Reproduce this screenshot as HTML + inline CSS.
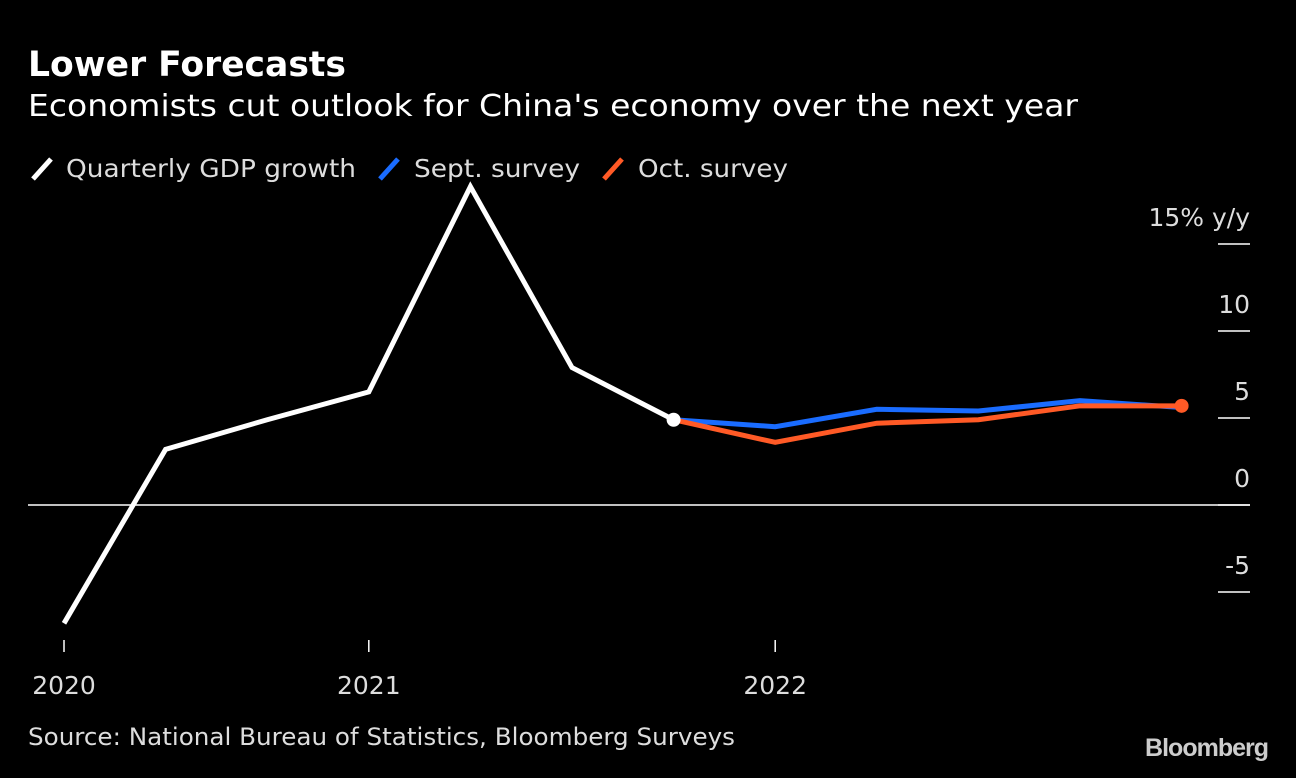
<!DOCTYPE html>
<html><head><meta charset="utf-8"><style>
body{margin:0;background:#000;width:1296px;height:774px;overflow:hidden;font-family:"DejaVu Sans",sans-serif;color:#fff}
</style></head><body>
<svg width="1296" height="774" font-family="DejaVu Sans, sans-serif">
<text x="28" y="76" font-size="35" font-weight="bold" fill="#fff" textLength="318" lengthAdjust="spacingAndGlyphs">Lower Forecasts</text>
<text x="28" y="116" font-size="30" fill="#fff" textLength="1050" lengthAdjust="spacingAndGlyphs">Economists cut outlook for China's economy over the next year</text>
<g>
<line x1="33" y1="179" x2="51" y2="159" stroke="#fff" stroke-width="5"/>
<text x="66" y="177" font-size="25" fill="#ddd" textLength="290" lengthAdjust="spacingAndGlyphs">Quarterly GDP growth</text>
<line x1="380" y1="179" x2="398" y2="159" stroke="#1a6cff" stroke-width="5"/>
<text x="414" y="177" font-size="25" fill="#ddd" textLength="166" lengthAdjust="spacingAndGlyphs">Sept. survey</text>
<line x1="604" y1="179" x2="622" y2="159" stroke="#ff5a26" stroke-width="5"/>
<text x="638" y="177" font-size="25" fill="#ddd" textLength="150" lengthAdjust="spacingAndGlyphs">Oct. survey</text>
</g>
<g id="plot"></g>
<text x="28" y="745" font-size="24" fill="#ddd" textLength="707" lengthAdjust="spacingAndGlyphs">Source: National Bureau of Statistics, Bloomberg Surveys</text>
<text x="1268" y="756" font-family="Liberation Sans, sans-serif" font-size="25" font-weight="bold" fill="#ccc" text-anchor="end" letter-spacing="-1">Bloomberg</text>
</svg>
<script>
const gdp=[-6.8,3.2,4.9,6.5,18.3,7.9,4.9];
const sept=[4.9,4.5,5.5,5.4,6.0,5.6];
const oct=[4.9,3.6,4.7,4.9,5.7,5.7];
const yTicks=[15,10,5,0,-5];
const yLabels=["15% y/y","10","5","0","-5"];
const xTickIdx=[0,3,7];
const xLabels=["2020","2021","2022"];
const ns="http://www.w3.org/2000/svg";
const g=document.getElementById('plot');
const X=i=>64+i*101.6;
const Y=v=>505-v*17.4;
function mk(t,a){const e=document.createElementNS(ns,t);for(const k in a)e.setAttribute(k,a[k]);g.appendChild(e);return e;}
yTicks.forEach((v,i)=>{
 const l=mk('line',{x1:1218,x2:1250,y1:Y(v),y2:Y(v),stroke:'#fff','stroke-width':1.5});
 
 
 const t=mk('text',{x:1250,y:Y(v)-18,'font-size':25,fill:'#ddd','text-anchor':'end'});
 t.textContent=yLabels[i];
 
 
});
const z=mk('line',{x1:28,x2:1250,y1:Y(0),y2:Y(0),stroke:'#fff','stroke-width':1.5});


xTickIdx.forEach((idx,i)=>{
 const l=mk('line',{x1:X(idx),x2:X(idx),y1:640,y2:652,stroke:'#fff','stroke-width':1.5});
 
 
 const t=mk('text',{x:X(idx),y:694,'font-size':25,fill:'#ddd','text-anchor':'middle'});
 t.textContent=xLabels[i];
 
 
});
function line(arr,off,col,name){
 const p=mk('polyline',{points:arr.map((v,i)=>X(i+off)+','+Y(v)).join(' '),fill:'none',stroke:col,'stroke-width':5,'stroke-linejoin':'miter'});
 
 
}
line(sept,6,'#1a6cff','sept-survey-line');
line(oct,6,'#ff5a26','oct-survey-line');
line(gdp,0,'#fff','gdp-line');
const c1=mk('circle',{cx:X(6),cy:Y(gdp[6]),r:7,fill:'#fff'});


const c2=mk('circle',{cx:X(11),cy:Y(oct[5]),r:7,fill:'#ff5a26'});


</script>
</body></html>
